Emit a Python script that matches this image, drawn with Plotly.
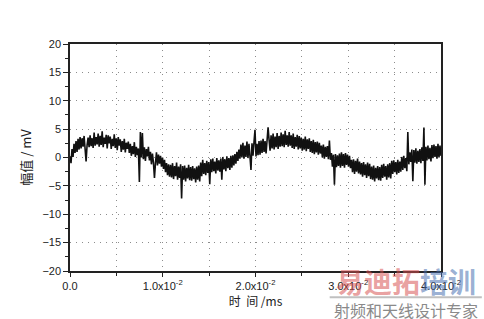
import numpy as np
import plotly.graph_objects as go

# signal amplitude (mV)
amp_mV = [
    0.2, -1.0, 1.5, 0.1, 2.4, 0.8, 2.9, 1.0, 3.3, 1.4,
    3.6, 1.6, 3.4, 1.9, 3.8, 1.5, -0.7, 2.2, 3.5, 1.8,
    3.9, 2.0, 3.4, 1.7, 4.4, 2.1, 3.6, 2.3, 4.2, 1.9,
    3.8, 2.2, 4.6, 1.8, 3.5, 2.4, 4.0, 1.6, 3.9, 2.5,
    3.7, 1.5, 3.3, 2.0, 4.1, 1.7, 3.4, 1.3, 3.6, 2.1,
    3.2, 1.0, 2.9, 1.4, 3.3, 0.9, 2.6, 1.5, 2.8, 0.8,
    2.4, 0.3, 2.0, 0.6, 2.7, 0.1, 1.9, 0.4, 1.6, -4.3,
    4.5, 0.0, 4.3, -0.3, 1.8, -0.6, 1.5, 0.2, 1.9, -0.5,
    1.0, -1.2, 0.7, -0.9, -3.6, -1.0, 0.9, -1.4, 0.5, -1.1,
    0.3, -1.6, 0.0, -2.0, -0.4, -2.6, -1.0, -3.1, -1.2, -3.4,
    -1.3, -3.5, -1.0, -3.8, -1.5, -3.3, -0.9, -3.9, -1.6, -3.6,
    -1.2, -7.2, -1.5, -3.9, -1.4, -4.2, -1.8, -3.7, -1.3, -4.0,
    -1.7, -4.1, -1.5, -3.8, -1.9, -4.4, -1.6, -3.9, -1.4, -4.2,
    -0.9, -3.3, -0.4, -2.9, -1.0, -3.1, -0.6, -2.7, -0.8, -4.7,
    -0.3, -2.6, -0.2, -2.4, -0.7, -2.8, -0.1, -2.3, -0.5, -2.5,
    -0.2, -3.9, 0.1, -2.1, -0.3, -2.4, 0.2, -1.9, -0.1, -2.2,
    0.3, -1.8, 0.4, -1.4, 0.6, -1.1, 1.0, -0.6, 1.4, -0.2,
    2.3, 0.0, 2.6, -0.2, 2.1, 0.1, 2.8, -0.1, 2.4, 0.2,
    -2.2, 2.5, 0.3, 2.7, 4.9, 0.2, 2.4, 0.4, 2.9, 0.5,
    3.0, 0.8, 3.3, 1.0, 2.9, 0.7, 3.4, 5.3, 3.1, 1.2,
    3.9, 1.6, 4.2, 1.4, 3.7, 1.8, 4.3, 1.5, 3.8, 1.9,
    4.4, 2.0, 4.1, 1.8, 4.7, 2.2, 3.9, 1.9, 4.5, 2.1,
    3.9, 1.7, 4.2, 1.5, 3.6, 1.9, 4.0, 1.4, 3.8, 1.6,
    3.5, 1.2, 3.3, 1.4, 3.7, 1.1, 3.2, 1.5, 3.4, 1.0,
    2.9, 0.8, 3.1, 0.6, 2.7, 0.9, 2.8, 0.5, 2.6, 0.7,
    2.1, 0.0, 2.3, -0.2, 1.9, 0.1, 2.0, -0.3, 3.0, -0.4,
    0.8, -1.6, 0.5, -4.8, 0.6, -1.7, 0.4, -1.5, 0.7, -1.8,
    0.9, -1.5, 0.6, -1.8, 0.8, -1.3, 0.5, -1.6, 0.3, -1.9,
    -0.4, -2.6, -0.3, -2.9, -0.6, -2.5, -0.2, -2.8, -0.7, -3.0,
    -1.0, -3.4, -0.8, -3.1, -1.2, -3.6, -0.9, -3.3, -1.1, -3.8,
    -1.6, -3.9, -1.4, -4.2, -1.8, -3.7, -1.5, -4.0, -1.7, -4.1,
    -1.3, -3.6, -1.1, -3.4, -1.5, -3.9, -1.2, -3.5, -1.0, -3.7,
    -0.6, -2.9, -0.5, -2.6, -0.8, -3.0, -0.4, -2.7, -0.7, -2.5,
    0.1, -2.2, 0.3, -1.9, -0.1, -2.4, 4.5, -1.2, 0.9, -0.8,
    1.4, -4.2, 1.3, -0.9, 1.6, -1.1, 1.2, -0.8, 1.5, -1.0,
    1.8, -0.6, 5.3, -4.8, 1.9, -0.5, 2.1, -0.3, 1.7, -0.7,
    2.2, -0.1, 2.3, 0.1, 2.0, -0.2, 2.4, 0.0, 2.1, 0.3,
]
t_start_ms = 0.0
t_end_ms = 0.04
time_ms = np.linspace(t_start_ms, t_end_ms, len(amp_mV))

x_tick_vals = [0.0, 0.01, 0.02, 0.03, 0.04]
x_tick_text = ["0.0", "1.0x10<sup>-2</sup>", "2.0x10<sup>-2</sup>",
               "3.0x10<sup>-2</sup>", "4.0x10<sup>-2</sup>"]
y_tick_vals = [-20, -15, -10, -5, 0, 5, 10, 15, 20]

fig = go.Figure()
fig.add_trace(go.Scatter(
    x=time_ms, y=amp_mV, mode="lines",
    line=dict(color="#111111", width=1.6),
    showlegend=False, hoverinfo="skip",
))

tick_font = dict(family="Liberation Sans, Arial, sans-serif", size=11, color="#222")
grid_common = dict(gridcolor="#8c8c8c", griddash="1px,5px", gridwidth=1)

fig.update_layout(
    width=484, height=319,
    margin=dict(l=70, r=43, t=44, b=48),
    paper_bgcolor="white", plot_bgcolor="white",
    xaxis=dict(
        range=[t_start_ms, t_end_ms],
        tickvals=x_tick_vals, ticktext=x_tick_text,
        tickfont=tick_font,
        ticks="outside", ticklen=4, tickcolor="#222",
        showline=True, linecolor="#222", linewidth=1.5, mirror=True,
        showgrid=True, **grid_common,
        zeroline=False,
        minor=dict(dtick=0.005, tick0=0, ticks="outside", ticklen=3,
                   tickcolor="#222", showgrid=True, **grid_common),
        title=dict(text="时&nbsp;&nbsp;间 /ms", standoff=6,
                   font=dict(family="Noto Sans CJK SC", size=12, color="#222")),
    ),
    yaxis=dict(
        range=[-20, 20],
        tickvals=y_tick_vals,
        tickfont=tick_font,
        ticks="outside", ticklen=5, tickcolor="#222",
        showline=True, linecolor="#222", linewidth=1.5, mirror=True,
        showgrid=True, **grid_common,
        zeroline=False,
        minor=dict(dtick=2.5, tick0=0, ticks="outside", ticklen=3,
                   tickcolor="#222", showgrid=False),
        title=dict(text="幅值 / mV", standoff=8,
                   font=dict(family="Noto Sans CJK SC", size=13, color="#222")),
    ),
)

# watermark
fig.add_annotation(xref="paper", yref="paper", x=0.907, y=-0.043,
                   xanchor="center", yanchor="middle", showarrow=False,
                   text="<b><span style='color:rgba(215,80,80,0.55)'>易迪拓</span>"
                        "<span style='color:rgba(70,110,175,0.55)'>培训</span></b>",
                   font=dict(family="Noto Sans CJK SC", size=28))
fig.add_shape(type="line", xref="paper", yref="paper",
              x0=0.70, x1=1.11, y0=-0.116, y1=-0.116,
              line=dict(color="rgba(150,150,150,0.6)", width=2))
fig.add_annotation(xref="paper", yref="paper", x=0.907, y=-0.17,
                   xanchor="center", yanchor="middle", showarrow=False,
                   text="射频和天线设计专家",
                   font=dict(family="Noto Sans CJK SC", size=16, color="#8a8a8a"))

fig.write_html("out.html")
